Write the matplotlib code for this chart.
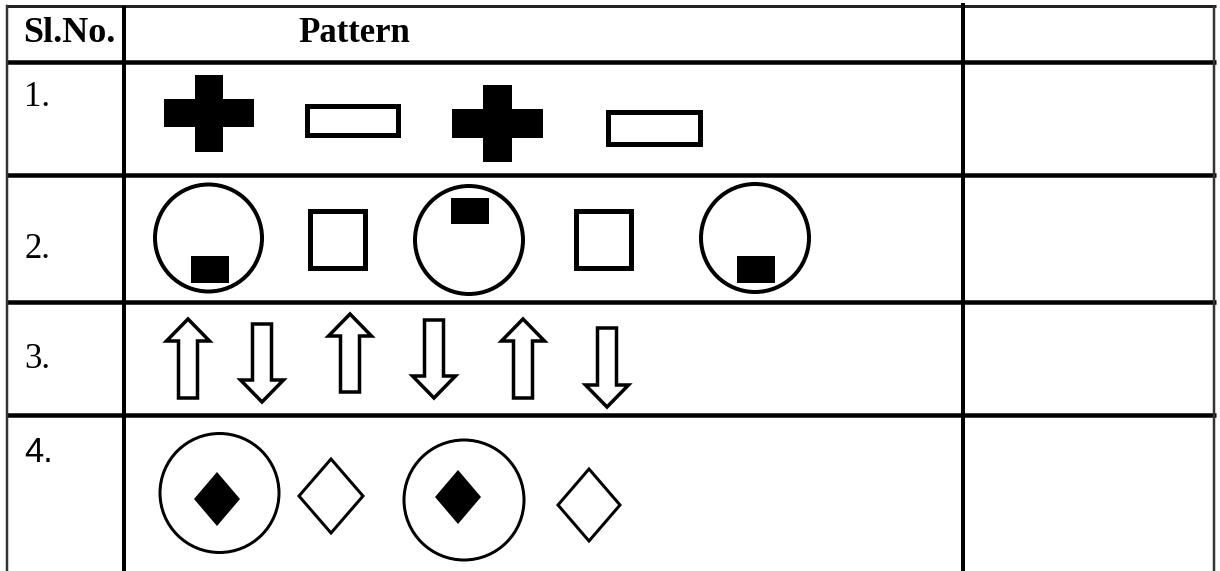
"""
Pattern table: shapes drawn in a pixel-sized axes
"""

import matplotlib
matplotlib.use("Agg")
import matplotlib.pyplot as plt
import matplotlib.patches as patches

W, H = 1220, 571

# table grid (pixels)
col_x = [7, 124, 963, 1214]
row_y = [6, 62, 175, 302, 415]

header_texts = ["Sl.No.", "Pattern"]
header_x = [23, 298]
header_base = 42
header_size = [26, 25]

row_labels = ["1.", "2.", "3.", "4."]
label_base = [106, 258, 368, 462]
label_family = ["Liberation Serif", "Liberation Serif", "Liberation Serif", "Liberation Sans"]

# row 1: black crosses (cx, cy, width, height, arm) and outlined bars (x, y, w, h)
cross_specs = [(209, 113, 90, 77, 28), (497, 123, 91, 77, 29)]
bar_specs = [(304, 103, 96, 34), (605, 109, 97, 37)]

# row 2: circles (cx, cy, r), black blocks (x, y, w, h), squares (x, y, w, h)
ring2_specs = [(208.5, 238, 55.5), (469, 240, 56), (755, 238, 56)]
block_specs = [(191, 256, 38, 27), (451, 198, 38, 26), (737, 256, 38, 27)]
square_specs = [(307, 208, 60, 62), (573, 208, 60, 62)]

# row 3: arrows (cx, tail y, tip y)
up_arrows = [(188, 398, 319), (350, 392, 314), (523, 398, 319)]
down_arrows = [(262, 324, 402), (434, 320, 398), (607, 328, 407)]

# row 4: rings (cx, cy, r), filled diamonds and outline diamonds (cx, cy, half w, half h)
ring4_specs = [(219.5, 493, 61), (464, 500, 61.5)]
solid_diamonds = [(217, 499, 23, 27), (458, 497, 23, 27)]
open_diamonds = [(331, 496, 34, 39), (589, 505, 33, 38)]


def px(v):
    # pixel width -> points at dpi 100
    return v * 0.72


fig = plt.figure(figsize=(W / 100, H / 100), dpi=100)
ax = fig.add_axes([0, 0, 1, 1])
ax.set_xlim(0, W)
ax.set_ylim(H, 0)
ax.axis("off")

# grid lines
ax.plot([col_x[0], col_x[-1] + 2], [row_y[0], row_y[0]], color="#222222", lw=px(3), solid_capstyle="butt")
for y in row_y[1:]:
    ax.plot([col_x[0], col_x[-1] + 2], [y, y], color="black", lw=px(4.5), solid_capstyle="butt")
ax.plot([col_x[0], col_x[0]], [row_y[0], H], color="#333333", lw=px(2.5))
ax.plot([col_x[1], col_x[1]], [row_y[0], H], color="black", lw=px(4), solid_capstyle="butt")
ax.plot([col_x[2], col_x[2]], [3, H], color="black", lw=px(4), solid_capstyle="butt")
ax.plot([col_x[3], col_x[3]], [row_y[0], H], color="#333333", lw=px(2.5), solid_capstyle="butt")

# texts
for t, x, fs in zip(header_texts, header_x, header_size):
    ax.text(x, header_base, t, fontsize=fs, fontweight="bold", family="Liberation Serif",
            ha="left", va="baseline")
for t, y, fam in zip(row_labels, label_base, label_family):
    ax.text(24, y, t, fontsize=25, family=fam, ha="left", va="baseline")

# row 1
for cx, cy, w, h, arm in cross_specs:
    ax.add_patch(patches.Rectangle((cx - w / 2, cy - arm / 2), w, arm, facecolor="black", edgecolor="none"))
    ax.add_patch(patches.Rectangle((cx - arm / 2, cy - h / 2), arm, h, facecolor="black", edgecolor="none"))
for x, y, w, h in bar_specs:
    lw = 5
    ax.add_patch(patches.Rectangle((x + lw / 2, y + lw / 2), w - lw, h - lw,
                                   facecolor="white", edgecolor="black", linewidth=px(lw)))

# row 2
for cx, cy, r in ring2_specs:
    ax.add_patch(patches.Circle((cx, cy), r - 2, facecolor="none", edgecolor="black", linewidth=px(4)))
for x, y, w, h in block_specs:
    ax.add_patch(patches.Rectangle((x, y), w, h, facecolor="black", edgecolor="none"))
for x, y, w, h in square_specs:
    lw = 5
    ax.add_patch(patches.Rectangle((x + lw / 2, y + lw / 2), w - lw, h - lw,
                                   facecolor="none", edgecolor="black", linewidth=px(lw)))


# row 3
def arrow_points(cx, y_tail, y_tip, head_w=43, stem_w=19, head_len=22):
    d = 1 if y_tip > y_tail else -1
    y_base = y_tip - d * head_len
    return [(cx - stem_w / 2, y_tail), (cx + stem_w / 2, y_tail),
            (cx + stem_w / 2, y_base), (cx + head_w / 2, y_base),
            (cx, y_tip), (cx - head_w / 2, y_base), (cx - stem_w / 2, y_base)]


for cx, yt, yp in up_arrows + down_arrows:
    ax.add_patch(patches.Polygon(arrow_points(cx, yt, yp), closed=True, facecolor="white",
                                 edgecolor="black", linewidth=px(3.5), joinstyle="miter"))

# row 4
for cx, cy, r in ring4_specs:
    ax.add_patch(patches.Circle((cx, cy), r - 1.5, facecolor="none", edgecolor="black", linewidth=px(3)))
for cx, cy, hw, hh in solid_diamonds:
    ax.add_patch(patches.Polygon([(cx, cy - hh), (cx + hw, cy), (cx, cy + hh), (cx - hw, cy)],
                                 closed=True, facecolor="black", edgecolor="none"))
for cx, cy, hw, hh in open_diamonds:
    ax.add_patch(patches.Polygon([(cx, cy - hh + 2), (cx + hw - 2, cy), (cx, cy + hh - 2), (cx - hw + 2, cy)],
                                 closed=True, facecolor="none", edgecolor="black", linewidth=px(3)))

fig.savefig("out.png", dpi=100)
